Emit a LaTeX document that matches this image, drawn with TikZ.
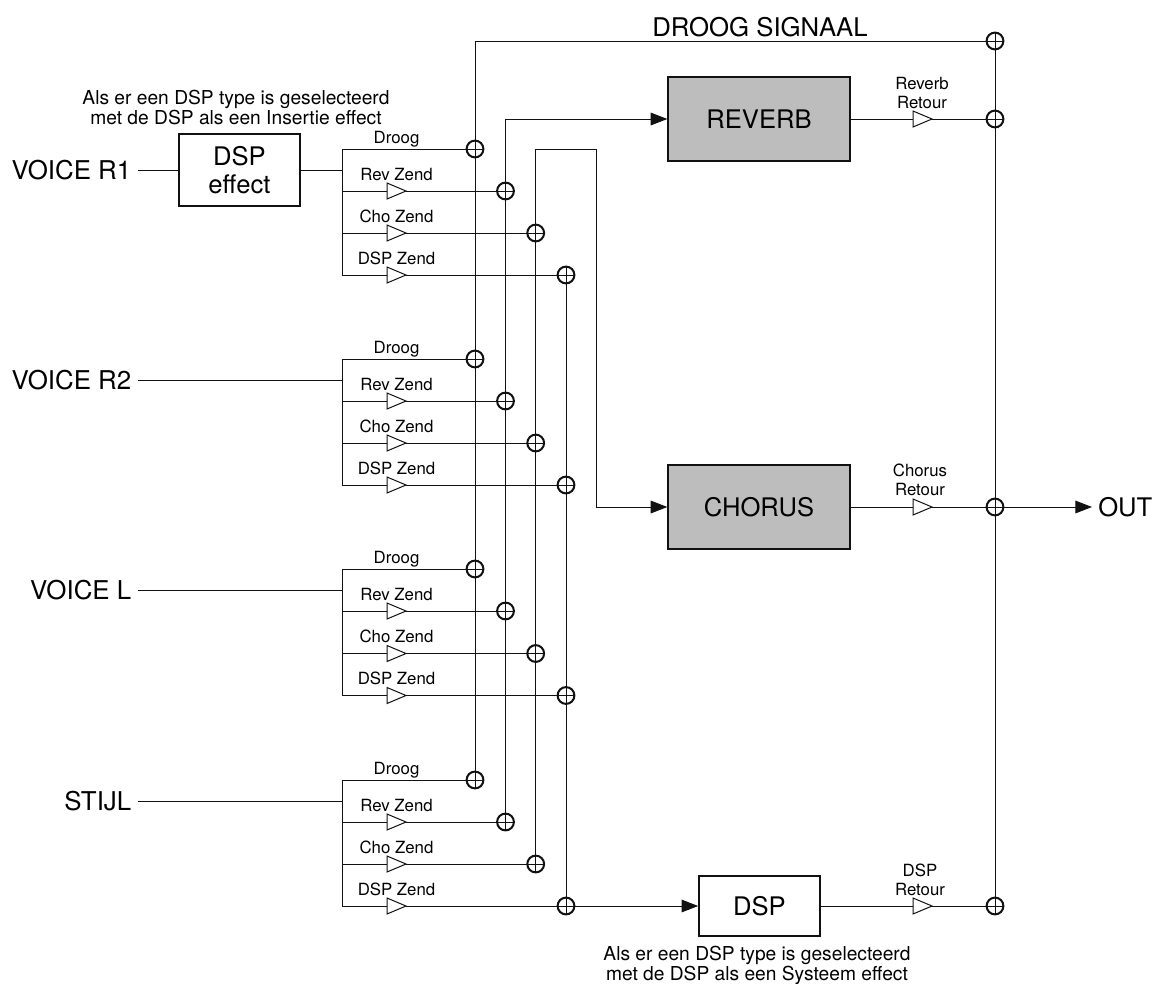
\documentclass[tikz,border=0pt]{standalone}
\usepackage{fontspec}
\setmainfont{TeX Gyre Heros}
\usetikzlibrary{arrows.meta,shapes.geometric}
\definecolor{boxgray}{HTML}{BDBDBD}
\definecolor{ink}{HTML}{111111}
\tikzset{
  wire/.style={draw=ink,line width=0.75pt},
  arrowwire/.style={wire,-{Triangle[length=12.5pt,width=9.5pt]}},
  sumnode/.style={circle,draw=ink,fill=white,line width=1.5pt,minimum size=12.6pt,inner sep=0pt,outer sep=0pt,
    path picture={\draw[ink,line width=0.6pt] (path picture bounding box.west)--(path picture bounding box.east)
      (path picture bounding box.north)--(path picture bounding box.south);}},
  ampnode/.style={isosceles triangle,isosceles triangle stretches,draw=ink,fill=white,line width=0.75pt,
    minimum width=12pt,minimum height=14.25pt,inner sep=0pt,outer sep=0pt,anchor=lower side},
  fxbox/.style={draw=ink,line width=1.5pt,inner sep=0pt,align=center,font=\fontsize{19.2}{23}\selectfont},
  grayfx/.style={fxbox,fill=boxgray,minimum width=136pt,minimum height=63.5pt},
  whitefx/.style={fxbox,fill=white,minimum width=90.5pt},
  srclabel/.style={anchor=east,inner ysep=0pt,inner xsep=4.5pt,font=\fontsize{19.4}{23}\selectfont},
  small/.style={inner sep=0pt,align=center,font=\fontsize{12.6}{14.2}\selectfont},
  note/.style={inner sep=0pt,align=center,font=\fontsize{14.4}{15}\selectfont},
}
\begin{document}
\begin{tikzpicture}[x=0.75pt,y=-0.75pt]
\useasboundingbox (0,0) rectangle (1154,983);
% input labels
\node[srclabel] (in1) at (137.5,170) {VOICE R1};
\node[srclabel] (in2) at (137.5,380) {VOICE R2};
\node[srclabel] (in3) at (137.5,590.5) {VOICE L};
\node[srclabel] (in4) at (137.5,801) {STIJL};
% boxes
\node[fxbox,minimum width=90.5pt,minimum height=54pt] (dspfx) at (239.5,170) {DSP\\[-2.5pt]effect};
\node[grayfx] (reverb) at (759,119) {REVERB};
\node[grayfx] (chorus) at (759,507) {CHORUS};
\node[whitefx,minimum height=45pt] (dsp) at (759.5,906) {DSP};
% mixer groups
\foreach \g/\d/\r/\c/\s in {1/149/191/233/275,2/359/401/443/485,3/569/611/653.5/695.5,4/780/822/864/906}{
  \node[sumnode] (sd\g) at (475,\d) {};
  \node[sumnode] (sr\g) at (505.5,\r) {};
  \node[sumnode] (sc\g) at (535.7,\c) {};
  \node[sumnode] (ss\g) at (566,\s) {};
  \node[ampnode] (ar\g) at (387,\r) {};
  \node[ampnode] (ac\g) at (387,\c) {};
  \node[ampnode] (as\g) at (387,\s) {};
  \coordinate (bd\g) at (342,\d);
  \coordinate (br\g) at (342,\r);
  \coordinate (bc\g) at (342,\c);
  \coordinate (bs\g) at (342,\s);
  \draw[wire] (bd\g) -- (sd\g);
  \draw[wire] (br\g) -- (ar\g.lower side);
  \draw[wire] (ar\g.apex) -- (sr\g);
  \draw[wire] (bc\g) -- (ac\g.lower side);
  \draw[wire] (ac\g.apex) -- (sc\g);
  \draw[wire] (bs\g) -- (as\g.lower side);
  \draw[wire] (as\g.apex) -- (ss\g);
  \draw[wire] (bd\g) -- (bs\g);
  \node[small] (ld\g) at (396.5,\d-10) {Droog};
  \node[small] (lr\g) at (396.5,\r-17) {Rev Zend};
  \node[small] (lc\g) at (396.5,\c-17) {Cho Zend};
  \node[small] (ls\g) at (396.5,\s-17) {DSP Zend};
}
% inputs to buses
\coordinate (m1) at (342,170);
\coordinate (m2) at (342,380);
\coordinate (m3) at (342,590.5);
\coordinate (m4) at (342,801);
\draw[wire] (in1.east) -- (dspfx.west);
\draw[wire] (dspfx.east) -- (m1);
\draw[wire] (in2.east) -- (m2);
\draw[wire] (in3.east) -- (m3);
\draw[wire] (in4.east) -- (m4);
% vertical collectors
\foreach \n in {sd,sr,sc,ss}{
  \draw[wire] (\n4.north) -- (\n3.south);
  \draw[wire] (\n3.north) -- (\n2.south);
  \draw[wire] (\n2.north) -- (\n1.south);
}
% output sums
\node[sumnode] (o1) at (995,41) {};
\node[sumnode] (o2) at (995,119) {};
\node[sumnode] (o3) at (995,507) {};
\node[sumnode] (o4) at (995,906) {};
\draw[wire] (o1.south) -- (o2.north);
\draw[wire] (o2.south) -- (o3.north);
\draw[wire] (o3.south) -- (o4.north);
% routes
\coordinate (dt) at (475,41);
\draw[wire] (sd1.north) -- (dt) -- (o1.west);
\coordinate (rt) at (505.5,119);
\draw[arrowwire] (sr1.north) -- (rt) -- (reverb.west);
\coordinate (ct) at (535.7,149.5);
\coordinate (cr) at (596.5,149.5);
\coordinate (cb) at (596.5,507);
\draw[arrowwire] (sc1.north) -- (ct) -- (cr) -- (cb) -- (chorus.west);
\draw[arrowwire] (ss4.east) -- (dsp.west);
% returns
\foreach \src/\a/\dst/\y in {reverb/a1/o2/119,chorus/a2/o3/507,dsp/a3/o4/906}{
  \node[ampnode] (\a) at (913,\y) {};
  \draw[wire] (\src.east) -- (\a.lower side);
  \draw[wire] (\a.apex) -- (\dst.west);
}
\node[inner sep=0pt,inner xsep=4.5pt,anchor=west,font=\fontsize{19.2}{23}\selectfont] (out) at (1092,507) {OUT};
\draw[arrowwire] (o3.east) -- (out.west);
% labels
\node[inner sep=0pt,font=\fontsize{19.3}{22}\selectfont] (dry) at (760,27) {DROOG SIGNAAL};
\node[small] (l1) at (922,93) {Reverb\\Retour};
\node[small] (l2) at (920,479.5) {Chorus\\Retour};
\node[small] (l3) at (920,879.5) {DSP\\Retour};
\node[note] (n1) at (236,107) {Als er een DSP type is geselecteerd\\met de DSP als een Insertie effect};
\node[note] (n2) at (757,965) {Als er een DSP type is geselecteerd\\met de DSP als een Systeem effect};
\end{tikzpicture}
\end{document}
